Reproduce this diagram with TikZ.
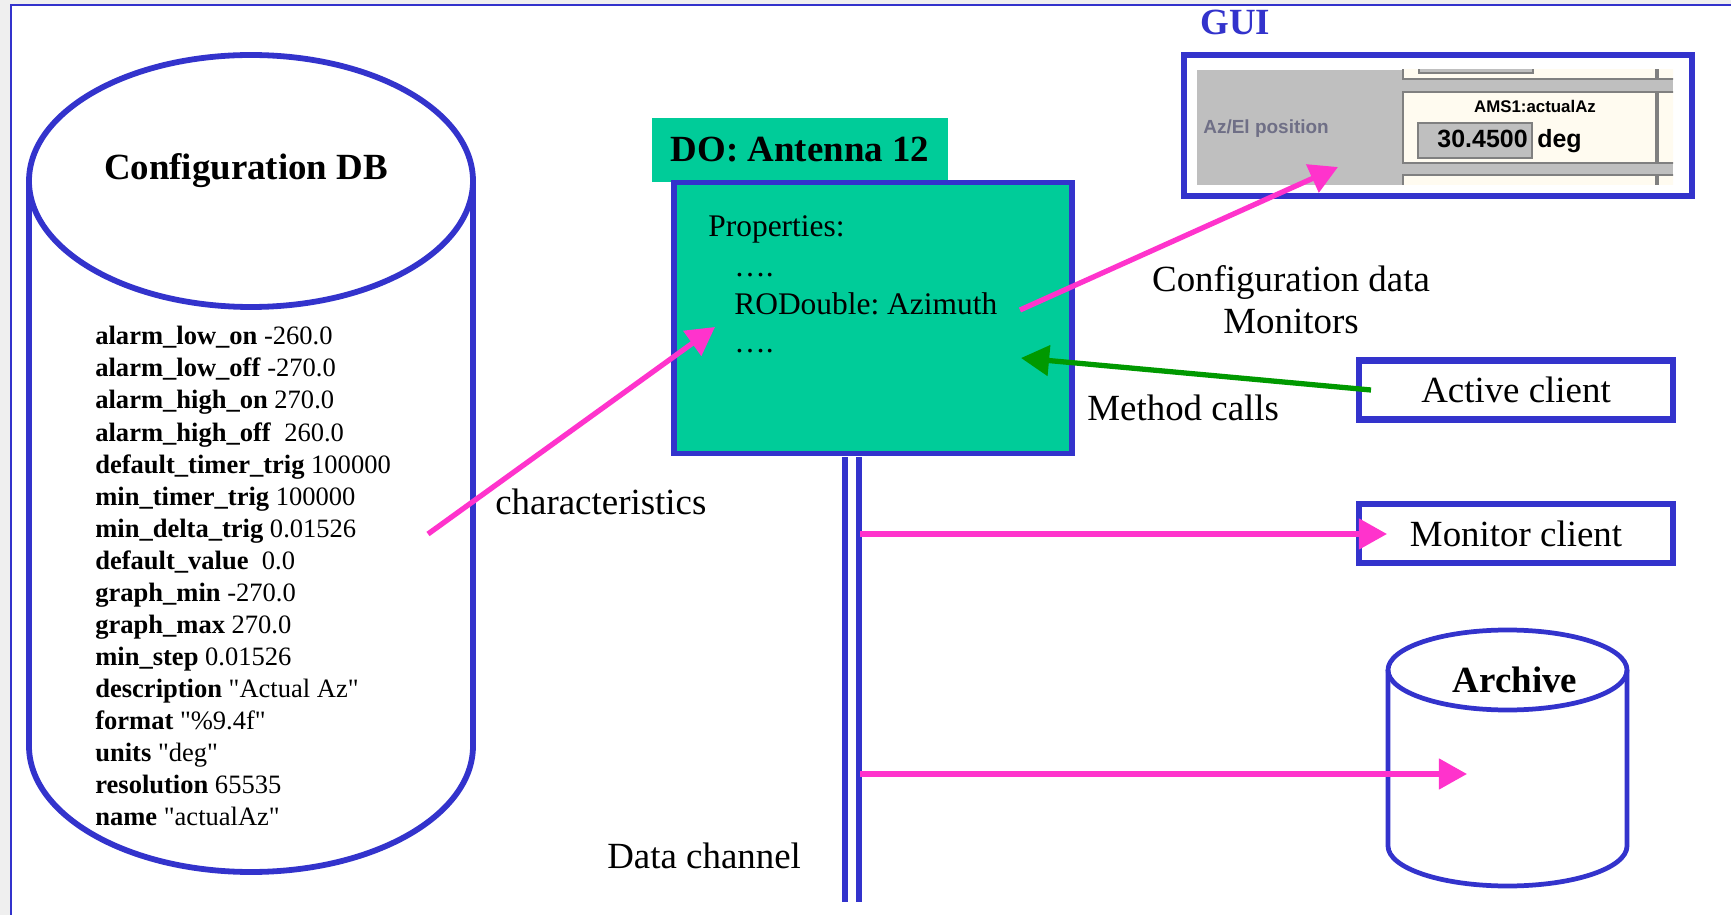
\documentclass[tikz,border=0pt]{standalone}
\usepackage{fontspec}
\setmainfont{Liberation Serif}
\newfontfamily\guifont{Liberation Sans}
\usetikzlibrary{arrows.meta}

\definecolor{acsblue}{HTML}{3333CC}
\definecolor{acspink}{HTML}{FF33CC}
\definecolor{acsgreen}{HTML}{009900}
\definecolor{dogreen}{HTML}{00CC99}
\definecolor{pagegray}{HTML}{EFEFEF}
\definecolor{guigray}{HTML}{BFBFBF}
\definecolor{guicream}{HTML}{FFFBF0}
\definecolor{guilabel}{HTML}{6F6F86}

\tikzset{
  plaintext/.style={inner sep=0pt, font=\fontsize{21}{24}\selectfont},
  boldtext/.style={inner sep=0pt, font=\fontsize{21}{24}\selectfont\bfseries},
  proptext/.style={inner sep=0pt, anchor=base west, font=\fontsize{17.9}{21}\selectfont},
  dbtext/.style={inner sep=0pt, anchor=base west, font=\fontsize{15.1}{18}\selectfont},
  guitext/.style={inner sep=0pt, font=\guifont\bfseries},
  blueline/.style={draw=acsblue, line width=3.3pt},
  clientbox/.style={draw=acsblue, line width=3.8pt, inner sep=0pt,
    minimum width=178.6pt, minimum height=33.7pt, font=\fontsize{21}{24}\selectfont},
  pinkarrow/.style={draw=acspink, line width=3pt, -{Triangle[length=16pt,width=17pt]}},
  greenarrow/.style={draw=acsgreen, line width=3pt, -{Triangle[length=16pt,width=17pt]}},
  guicell/.style={fill=guicream, draw=gray, line width=0.6pt},
}
\newcommand\qt[1]{\textquotedbl#1\textquotedbl}

\begin{document}
\frenchspacing
\begin{tikzpicture}[x=0.02cm, y=-0.02cm]
  \useasboundingbox (0,0) rectangle (1731,915);
  \fill[pagegray] (0,0) rectangle (1731,915);
  \fill[white] (11,5) rectangle (1731,915);
  \draw[acsblue, line width=1.4pt] (11,915) -- (11,5) -- (1731,5);

  % configuration database
  \draw[blueline] (29,181) -- (29,746) arc[start angle=180, end angle=0, x radius=222, y radius=126] -- (473,181);
  \draw[blueline] (251,181) ellipse[x radius=222, y radius=126];
  \node[boldtext, anchor=base] (dbtitle) at (246,180) {Configuration DB};
  \foreach \key/\val [count=\i] in {alarm\_low\_on/-260.0, alarm\_low\_off/-270.0,
      alarm\_high\_on/270.0, alarm\_high\_off/\ 260.0, default\_timer\_trig/100000,
      min\_timer\_trig/100000, min\_delta\_trig/0.01526, default\_value/\ 0.0,
      graph\_min/-270.0, graph\_max/270.0, min\_step/0.01526,
      description/\qt{Actual Az}, format/\qt{\%9.4f}, units/\qt{deg},
      resolution/65535, name/\qt{actualAz}}
    \node[dbtext] (dbitem\i) at (95,{345+32*(\i-1)}) {\textbf{\key} \val};

  % distributed object
  \node[fill=dogreen, inner sep=0pt, minimum width=168.9pt, minimum height=36.3pt,
    font=\fontsize{21}{24}\selectfont\bfseries] (dohead) at (800,150) {DO: Antenna 12};
  \node[fill=dogreen, draw=acsblue, line width=3.3pt, inner sep=0pt,
    minimum width=226.8pt, minimum height=154.2pt] (do) at (873,318) {};
  \node[proptext] (props) at (708,237) {Properties:};
  \node[proptext] (dots1) at (734,277) {….};
  \node[proptext] (rodouble) at (734,315) {RODouble: Azimuth};
  \node[proptext] (dots2) at (734,353) {….};

  % GUI screenshot
  \node[boldtext, anchor=base west, text=acsblue] (guititle) at (1200,35) {GUI};
  \begin{scope}
    \clip (1197,70) rectangle (1673,185);
    \fill[guigray] (1197,70) rectangle (1673,185);
    \foreach \ya/\yb in {60/79, 92/163, 175/195} {
      \filldraw[guicell] (1403,\ya) rectangle (1656,\yb);
      \filldraw[guicell] (1658,\ya) rectangle (1690,\yb);
    }
    \filldraw[fill=guigray, draw=gray, line width=0.6pt] (1419,60) rectangle (1533,73);
  \end{scope}
  \filldraw[fill=guigray, draw=gray, line width=0.6pt] (1418,123) rectangle (1532,158);
  \node[guitext, text=guilabel, anchor=base west, font=\guifont\bfseries\fontsize{10.8}{12}\selectfont] (azel) at (1203,134) {Az/El position};
  \node[guitext, anchor=base, font=\guifont\bfseries\fontsize{9.6}{12}\selectfont] (ams) at (1535,113) {AMS1:actualAz};
  \node[guitext, anchor=base east, font=\guifont\bfseries\fontsize{14.2}{16}\selectfont] (azval) at (1528,148) {30.4500};
  \node[guitext, anchor=base west, font=\guifont\bfseries\fontsize{14.2}{16}\selectfont] (azunit) at (1537,148) {deg};
  \node[draw=acsblue, line width=3.3pt, inner sep=0pt,
    minimum width=289.1pt, minimum height=79.9pt] (gui) at (1438,125.5) {};

  % clients and archive
  \node[clientbox] (active) at (1516,390) {Active client};
  \node[clientbox] (monitor) at (1516,533.5) {Monitor client};
  \draw[acsblue, line width=2.7pt] (1388,670) -- (1388,846) arc[start angle=180, end angle=0, x radius=119.5, y radius=40] -- (1627,670);
  \draw[acsblue, line width=2.7pt] (1507.5,670) ellipse[x radius=119.5, y radius=40];
  \node[boldtext, anchor=base] (archive) at (1515,692) {Archive};

  % labels
  \node[plaintext, anchor=base] (cfgdata) at (1291,292) {Configuration data};
  \node[plaintext, anchor=base] (monitors) at (1291,334) {Monitors};
  \node[plaintext, anchor=base west] (methcalls) at (1087,420) {Method calls};
  \node[plaintext, anchor=base west] (charact) at (495,514) {characteristics};
  \node[plaintext, anchor=base west] (datachan) at (607,868) {Data channel};

  % connectors
  \coordinate (dbout) at (428,534);
  \coordinate (propin) at (715,327);
  \coordinate (azout) at (1020,310);
  \coordinate (guiin) at (1338,167);
  \coordinate (activeout) at (1371,390);
  \coordinate (methin) at (1021,358);
  \coordinate (chtop) at (852,457);
  \coordinate (chbot) at (852,902);
  \coordinate (monout) at (860,534);
  \coordinate (monin) at (1387,534);
  \coordinate (arcout) at (860,774);
  \coordinate (arcin) at (1467,774);

  \draw[acsblue, line width=3.4pt, double=white, double distance=5.1pt] (chtop) -- (chbot);
  \draw[pinkarrow] (dbout) -- (propin);
  \draw[pinkarrow] (azout) -- (guiin);
  \draw[greenarrow] (activeout) -- (methin);
  \draw[pinkarrow] (monout) -- (monin);
  \draw[pinkarrow] (arcout) -- (arcin);
\end{tikzpicture}
\end{document}
